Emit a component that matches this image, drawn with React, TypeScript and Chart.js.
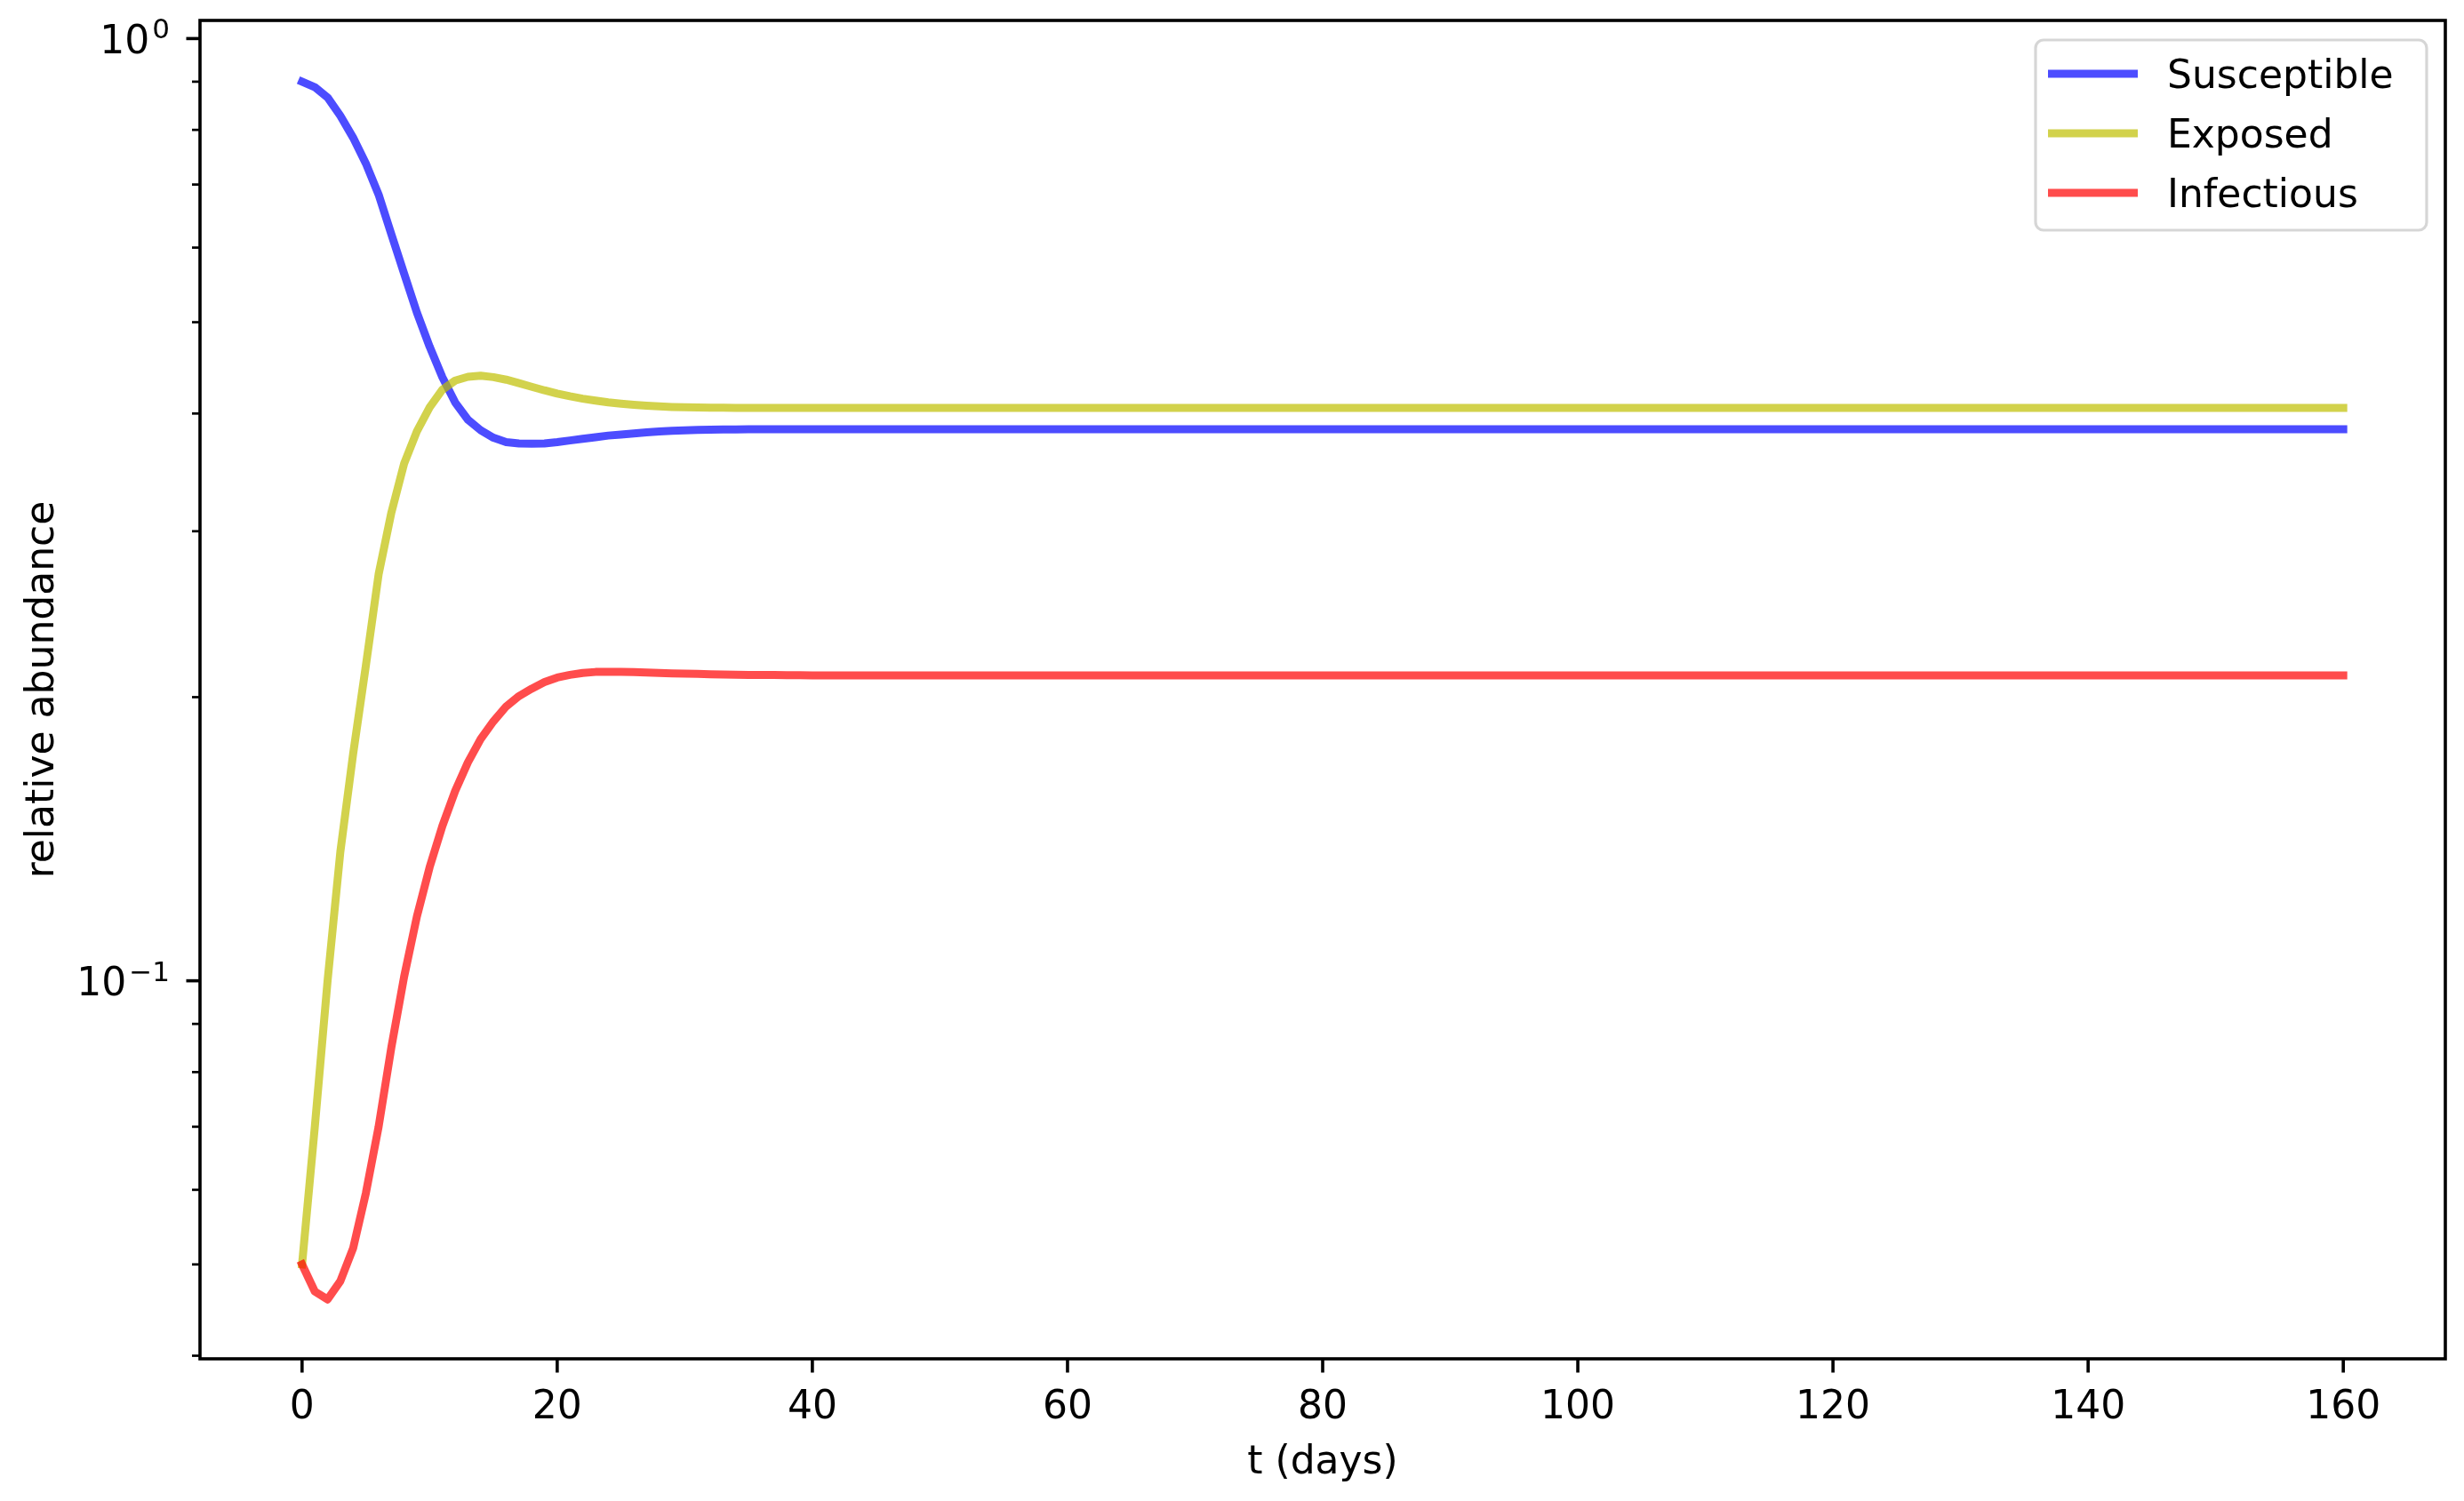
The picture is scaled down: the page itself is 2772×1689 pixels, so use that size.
import React, { useEffect, useRef } from 'react';
import { Chart, registerables } from 'chart.js';

Chart.register(...registerables);

// ---- data ----
const days = [
  0, 1, 2, 3, 4, 5, 6, 7, 8, 9, 10, 11, 12, 13, 14, 15, 16, 17, 18, 19, 20,
  21, 22, 23, 24, 25, 26, 27, 28, 29, 30, 31, 32, 33, 34, 35, 36, 37, 38, 39, 40,
  50, 60, 70, 80, 90, 100, 110, 120, 130, 140, 150, 160,
];

const susceptible = [
  0.900, 0.888, 0.866, 0.828, 0.785, 0.737, 0.683, 0.620, 0.563, 0.512, 0.471,
  0.437, 0.411, 0.394, 0.384, 0.377, 0.373, 0.3718, 0.3715, 0.3718, 0.373,
  0.3745, 0.376, 0.3775, 0.379, 0.380, 0.381, 0.382, 0.3828, 0.3834, 0.3839,
  0.3842, 0.3845, 0.3847, 0.3848, 0.3849, 0.385, 0.385, 0.385, 0.385, 0.385,
  0.385, 0.385, 0.385, 0.385, 0.385, 0.385, 0.385, 0.385, 0.385, 0.385, 0.385, 0.385,
];

const exposed = [
  0.050, 0.070, 0.100, 0.137, 0.174, 0.216, 0.270, 0.314, 0.354, 0.383, 0.406,
  0.424, 0.4335, 0.4375, 0.4388, 0.4372, 0.4345, 0.4308, 0.427, 0.4233, 0.420,
  0.4172, 0.4148, 0.4128, 0.411, 0.4097, 0.4086, 0.4077, 0.407, 0.4065, 0.4062,
  0.406, 0.4058, 0.4057, 0.4056, 0.4055, 0.4055, 0.4055, 0.4055, 0.4055, 0.4055,
  0.4055, 0.4055, 0.4055, 0.4055, 0.4055, 0.4055, 0.4055, 0.4055, 0.4055, 0.4055, 0.4055, 0.4055,
];

const infectious = [
  0.050, 0.0468, 0.0459, 0.048, 0.052, 0.0595, 0.070, 0.085, 0.101, 0.117, 0.132,
  0.146, 0.159, 0.1705, 0.1805, 0.1885, 0.1955, 0.2005, 0.2042, 0.2075, 0.2098,
  0.2112, 0.2122, 0.2127, 0.2128, 0.2128, 0.2126, 0.2124, 0.2122, 0.212, 0.2118,
  0.2117, 0.2115, 0.2114, 0.2113, 0.2112, 0.2111, 0.2111, 0.211, 0.211, 0.2109,
  0.2109, 0.2109, 0.2109, 0.2109, 0.2109, 0.2109, 0.2109, 0.2109, 0.2109, 0.2109, 0.2109, 0.2109,
];

const seriesNames = ['Susceptible', 'Exposed', 'Infectious'];
const seriesColors = ['rgba(0,0,255,0.7)', 'rgba(191,191,0,0.7)', 'rgba(255,0,0,0.7)'];

const xTicks = [0, 20, 40, 60, 80, 100, 120, 140, 160];
const yMajorTicks = [0.1, 1];
const yMajorExponents = ['\u22121', '0'];
const yMinorTicks = [0.04, 0.05, 0.06, 0.07, 0.08, 0.09, 0.2, 0.3, 0.4, 0.5, 0.6, 0.7, 0.8, 0.9];

const xTitle = 't (days)';
const yTitle = 'relative abundance';

const X_MIN = -8;
const X_MAX = 168;
const Y_MIN = 0.0397;
const Y_MAX = 1.0453;

const FONT = '"DejaVu Sans", sans-serif';

const axesPlugin = {
  id: 'mplAxes',
  afterDraw(chart: any) {
    const { ctx, chartArea: a, scales } = chart;
    const xs = scales.x;
    const ys = scales.y;
    ctx.save();
    ctx.strokeStyle = '#000';
    ctx.fillStyle = '#000';
    ctx.lineCap = 'butt';

    // frame (spines)
    ctx.lineWidth = 3.6;
    ctx.strokeRect(a.left, a.top, a.right - a.left, a.bottom - a.top);

    // x ticks + labels
    ctx.font = `44px ${FONT}`;
    ctx.textAlign = 'center';
    ctx.textBaseline = 'alphabetic';
    xTicks.forEach((v) => {
      const px = xs.getPixelForValue(v);
      ctx.beginPath();
      ctx.moveTo(px, a.bottom);
      ctx.lineTo(px, a.bottom + 15.5);
      ctx.stroke();
      ctx.fillText(String(v), px, a.bottom + 67);
    });

    // y minor ticks
    ctx.lineWidth = 2.7;
    yMinorTicks.forEach((v) => {
      const py = ys.getPixelForValue(v);
      ctx.beginPath();
      ctx.moveTo(a.left - 9, py);
      ctx.lineTo(a.left, py);
      ctx.stroke();
    });

    // y major ticks + labels (10^n)
    ctx.lineWidth = 3.6;
    yMajorTicks.forEach((v, i) => {
      const py = ys.getPixelForValue(v);
      ctx.beginPath();
      ctx.moveTo(a.left - 15.5, py);
      ctx.lineTo(a.left, py);
      ctx.stroke();
      const rightEdge = a.left - 34;
      ctx.textAlign = 'right';
      ctx.font = `31px ${FONT}`;
      const exp = yMajorExponents[i];
      ctx.fillText(exp, rightEdge, py);
      const w = ctx.measureText(exp).width;
      ctx.font = `44px ${FONT}`;
      ctx.fillText('10', rightEdge - w - 3, py + 16.6);
    });

    // axis titles
    ctx.font = `44px ${FONT}`;
    ctx.textAlign = 'center';
    ctx.textBaseline = 'alphabetic';
    ctx.fillText(xTitle, (a.left + a.right) / 2, a.bottom + 129);

    ctx.save();
    ctx.translate(60, (a.top + a.bottom) / 2);
    ctx.rotate(-Math.PI / 2);
    ctx.fillText(yTitle, 0, 0);
    ctx.restore();

    // legend
    const bw = 440;
    const bh = 214;
    const bx = a.right - 461;
    const by = a.top + 22;
    ctx.beginPath();
    if (ctx.roundRect) {
      ctx.roundRect(bx, by, bw, bh, 9);
    } else {
      ctx.rect(bx, by, bw, bh);
    }
    ctx.fillStyle = 'rgba(255,255,255,0.8)';
    ctx.fill();
    ctx.lineWidth = 3.2;
    ctx.strokeStyle = 'rgba(204,204,204,0.8)';
    ctx.stroke();

    seriesNames.forEach((name, i) => {
      const ly = by + 38 + i * 67;
      ctx.beginPath();
      ctx.strokeStyle = seriesColors[i];
      ctx.lineWidth = 9;
      ctx.lineCap = 'butt';
      ctx.moveTo(bx + 14, ly);
      ctx.lineTo(bx + 115, ly);
      ctx.stroke();
      ctx.fillStyle = '#000';
      ctx.font = `44px ${FONT}`;
      ctx.textAlign = 'left';
      ctx.fillText(name, bx + 148, ly + 16);
    });

    ctx.restore();
  },
};

export default function App() {
  const canvasRef = useRef<HTMLCanvasElement | null>(null);

  useEffect(() => {
    const canvas = canvasRef.current;
    if (!canvas) return;
    const series = [susceptible, exposed, infectious];
    const orders = [2, 1, 0];
    const chart = new Chart(canvas, {
      type: 'line',
      data: {
        datasets: series.map((vals, i) => ({
          label: seriesNames[i],
          data: days.map((d, j) => ({ x: d, y: vals[j] })),
          borderColor: seriesColors[i],
          backgroundColor: seriesColors[i],
          borderWidth: 9,
          borderCapStyle: 'square',
          borderJoinStyle: 'round',
          pointRadius: 0,
          tension: 0,
          fill: false,
          order: orders[i],
        })),
      },
      options: {
        animation: false,
        responsive: false,
        devicePixelRatio: 1,
        layout: { padding: { left: 225, right: 21, top: 23, bottom: 160 } },
        scales: {
          x: { type: 'linear', min: X_MIN, max: X_MAX, display: false, bounds: 'data' },
          y: { type: 'logarithmic', min: Y_MIN, max: Y_MAX, display: false, bounds: 'data' },
        },
        plugins: {
          legend: { display: false },
          tooltip: { enabled: false },
          title: { display: false },
        },
      } as any,
      plugins: [axesPlugin],
    });
    return () => chart.destroy();
  }, []);

  return (
    <div style={{ position: 'fixed', left: 0, top: 0, width: 2772, height: 1689, background: '#fff' }}>
      <canvas ref={canvasRef} width={2772} height={1689} style={{ width: 2772, height: 1689, display: 'block' }} />
    </div>
  );
}
